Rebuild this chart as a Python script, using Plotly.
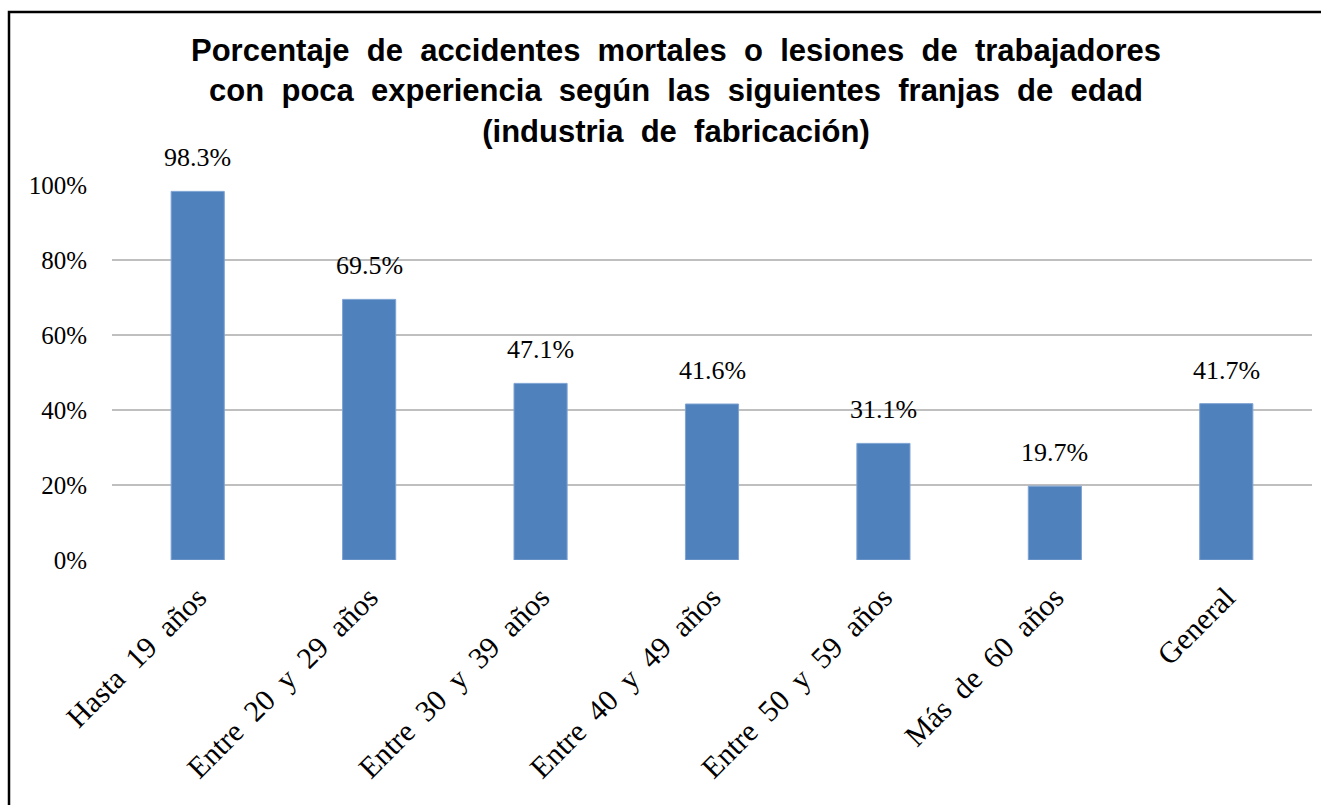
import plotly.graph_objects as go

categories = ["Hasta 19 años", "Entre 20 y 29 años", "Entre 30 y 39 años",
              "Entre 40 y 49 años", "Entre 50 y 59 años", "Más de 60 años", "General"]
values = [98.3, 69.5, 47.1, 41.6, 31.1, 19.7, 41.7]
y_ticks = [0, 20, 40, 60, 80, 100]
y_tick_labels = ["0%", "20%", "40%", "60%", "80%", "100%"]
title_lines = ["Porcentaje de accidentes mortales o lesiones de trabajadores",
               "con poca experiencia según las siguientes franjas de edad",
               "(industria de fabricación)"]

W, H = 1321, 805
L, R, T, B = 112, 9, 185, 245
pw, ph = W - L - R, H - T - B

def widen(s, n):
    return s.replace(" ", "\u00a0" * (n - 1) + " ")

fig = go.Figure()
fig.add_trace(go.Bar(
    x=categories, y=values,
    marker=dict(color="#4F81BD", line=dict(color="#7FA3D3", width=1)),
    cliponaxis=False, hoverinfo="x+y",
))

for c, v in zip(categories, values):
    fig.add_annotation(x=c, y=v, text=f"{v:.1f}%", showarrow=False,
                       yanchor="bottom", yshift=17,
                       font=dict(family="Liberation Serif", size=26, color="black"))

# outer frame (extends past right and bottom edges, as in the reference)
fig.add_shape(type="rect", xref="paper", yref="paper",
              x0=(9 - L) / pw, x1=(1330 - L) / pw,
              y0=(H - B - 820) / ph, y1=(H - B - 12) / ph,
              line=dict(color="black", width=2.5), layer="above")

fig.update_layout(
    width=W, height=H,
    margin=dict(l=L, r=R, t=T, b=B),
    paper_bgcolor="white", plot_bgcolor="white",
    bargap=0.69,
    showlegend=False,
    title=dict(text="<b>" + "<br>".join(widen(t, 2) for t in title_lines) + "</b>",
               x=676 / W, xanchor="center", xref="container",
               y=1 - 61 / H, yanchor="top", yref="container",
               font=dict(family="Liberation Sans", size=31, color="black")),
    xaxis=dict(tickangle=-45, showgrid=False, showline=False, ticks="",
               tickmode="array", tickvals=categories,
               ticktext=[widen(c, 2) for c in categories],
               tickfont=dict(family="Liberation Serif", size=30, color="black"),
               ticklabelstandoff=13),
    yaxis=dict(range=[0, 100], tickmode="array", tickvals=y_ticks, ticktext=y_tick_labels,
               showgrid=True, gridcolor="#BFBFBF", gridwidth=2,
               zeroline=False, showline=False, ticks="",
               tickfont=dict(family="Liberation Serif", size=25, color="black"),
               ticklabelstandoff=24),
)

fig.write_html("out.html", config={"displayModeBar": False},
               post_script="document.body.style.margin='0px';")
